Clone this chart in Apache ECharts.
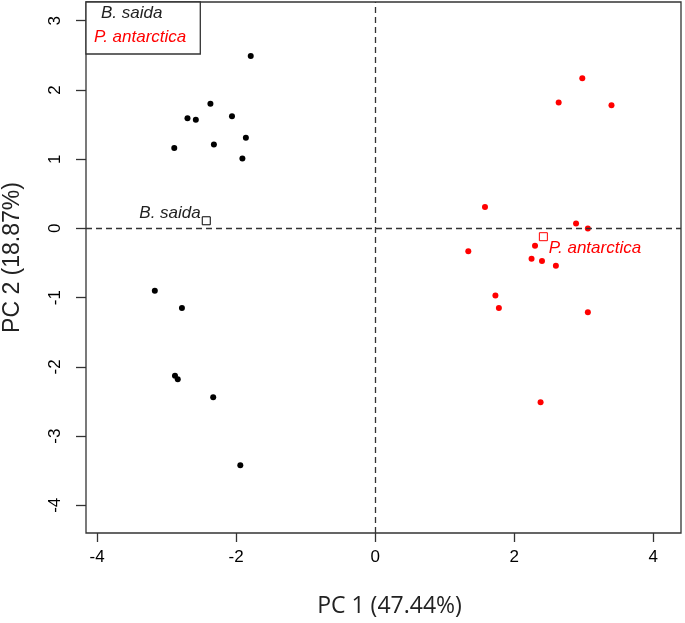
<!DOCTYPE html>
<html>
<head>
<meta charset="utf-8">
<script src="https://cdn.jsdelivr.net/npm/echarts@6/dist/echarts.min.js"></script>
<style>
  html, body { margin: 0; padding: 0; background: #fff; }
  #chart { width: 685px; height: 623px; }
</style>
</head>
<body>
<div id="chart"></div>
<script>
// PCA scores
const bSaida = [
  [-1.79, 2.49], [-2.37, 1.80], [-2.70, 1.59], [-2.58, 1.57], [-2.06, 1.62],
  [-1.86, 1.31], [-2.32, 1.21], [-2.89, 1.16], [-1.91, 1.01],
  [-3.17, -0.90], [-2.78, -1.15], [-2.88, -2.13], [-2.84, -2.18],
  [-2.33, -2.44], [-1.94, -3.42]
];
const pAntarctica = [
  [2.98, 2.17], [2.64, 1.82], [3.40, 1.78], [1.58, 0.31], [2.89, 0.07],
  [3.06, 0.00], [1.34, -0.33], [2.30, -0.25], [2.25, -0.44], [2.40, -0.47],
  [2.60, -0.54], [1.73, -0.97], [1.78, -1.15], [3.06, -1.21], [2.38, -2.51]
];
const centroidB = [-2.43, 0.11];
const centroidP = [2.42, -0.12];
const xTicks = [-4, -2, 0, 2, 4];
const yTicks = [-4, -3, -2, -1, 0, 1, 2, 3];

const chart = echarts.init(document.getElementById('chart'));

const tickFont = { fontFamily: 'Liberation Sans, Arial, sans-serif', fontSize: 17, color: '#000' };

chart.setOption({
  animation: false,
  grid: {
    left: 86, right: 4, top: 2, bottom: 90,
    outerBoundsMode: 'none',
    containLabel: false,
    show: true, borderColor: '#333', borderWidth: 1.3, backgroundColor: '#fff'
  },
  xAxis: {
    type: 'value',
    min: -4.16, max: 4.40,
    name: 'PC 1 (47.44%)',
    nameLocation: 'middle',
    nameGap: 62,
    nameTextStyle: { fontFamily: 'Open Sans', fontSize: 23, color: '#222', padding: [0, 0, 0, 12] },
    axisLine: { show: false, onZero: false },
    splitLine: { show: false },
    axisTick: { show: true, length: 9, lineStyle: { color: '#333', width: 1.3 }, customValues: xTicks },
    axisLabel: Object.assign({ margin: 16, customValues: xTicks, formatter: v => String(v) }, tickFont)
  },
  yAxis: {
    type: 'value',
    min: -4.40, max: 3.27,
    name: 'PC 2 (18.87%)',
    nameLocation: 'middle',
    nameGap: 62,
    nameTextStyle: {
      fontFamily: 'Liberation Sans, Arial, sans-serif', fontSize: 23, color: '#222',
      padding: [0, 0, 0, 20]
    },
    axisLine: { show: false, onZero: false },
    splitLine: { show: false },
    axisTick: { show: true, length: 10, lineStyle: { color: '#333', width: 1.3 }, customValues: yTicks },
    axisLabel: Object.assign({ margin: 22, rotate: 90, customValues: yTicks, formatter: v => String(v) }, tickFont)
  },
  series: [
    {
      type: 'scatter',
      data: [],
      silent: true,
      markLine: {
        silent: true,
        symbol: 'none',
        label: { show: false },
        lineStyle: { color: '#333', type: [6, 4], width: 1.3 },
        data: [{ xAxis: 0 }, { yAxis: 0 }]
      }
    },
    {
      name: 'B. saida',
      type: 'scatter',
      symbol: 'circle',
      symbolSize: 6,
      itemStyle: { color: '#000', opacity: 1 },
      data: bSaida
    },
    {
      name: 'P. antarctica',
      type: 'scatter',
      symbol: 'circle',
      symbolSize: 6,
      itemStyle: { color: '#ff0000', opacity: 1 },
      data: pAntarctica
    },
    {
      type: 'scatter',
      symbol: 'rect',
      symbolSize: 8,
      itemStyle: { color: '#fff', borderColor: '#000', borderWidth: 1, opacity: 1 },
      label: {
        show: true, position: 'left', distance: 1, offset: [0, -8],
        formatter: 'B. saida', fontStyle: 'italic', fontSize: 17,
        fontFamily: 'Liberation Sans, Arial, sans-serif', color: '#222'
      },
      data: [centroidB]
    },
    {
      type: 'scatter',
      symbol: 'rect',
      symbolSize: 8,
      itemStyle: { color: '#fff', borderColor: '#ff0000', borderWidth: 1, opacity: 1 },
      label: {
        show: true, position: 'right', distance: 1, offset: [0, 12],
        formatter: 'P. antarctica', fontStyle: 'italic', fontSize: 17,
        fontFamily: 'Liberation Sans, Arial, sans-serif', color: '#ff0000'
      },
      data: [centroidP]
    }
  ],
  legend: {
    left: 86, top: 2,
    orient: 'vertical',
    itemWidth: 0, itemHeight: 0, itemGap: 7,
    padding: [3, 14, 8, 3],
    borderColor: '#333', borderWidth: 1.3, backgroundColor: '#fff',
    icon: 'none',
    selectedMode: false,
    data: [
      { name: 'B. saida', textStyle: { color: '#222', padding: [0, 0, 0, 7] } },
      { name: 'P. antarctica', textStyle: { color: '#ff0000' } }
    ],
    textStyle: { fontStyle: 'italic', fontSize: 17, fontFamily: 'Liberation Sans, Arial, sans-serif' }
  }
});
</script>
</body>
</html>
